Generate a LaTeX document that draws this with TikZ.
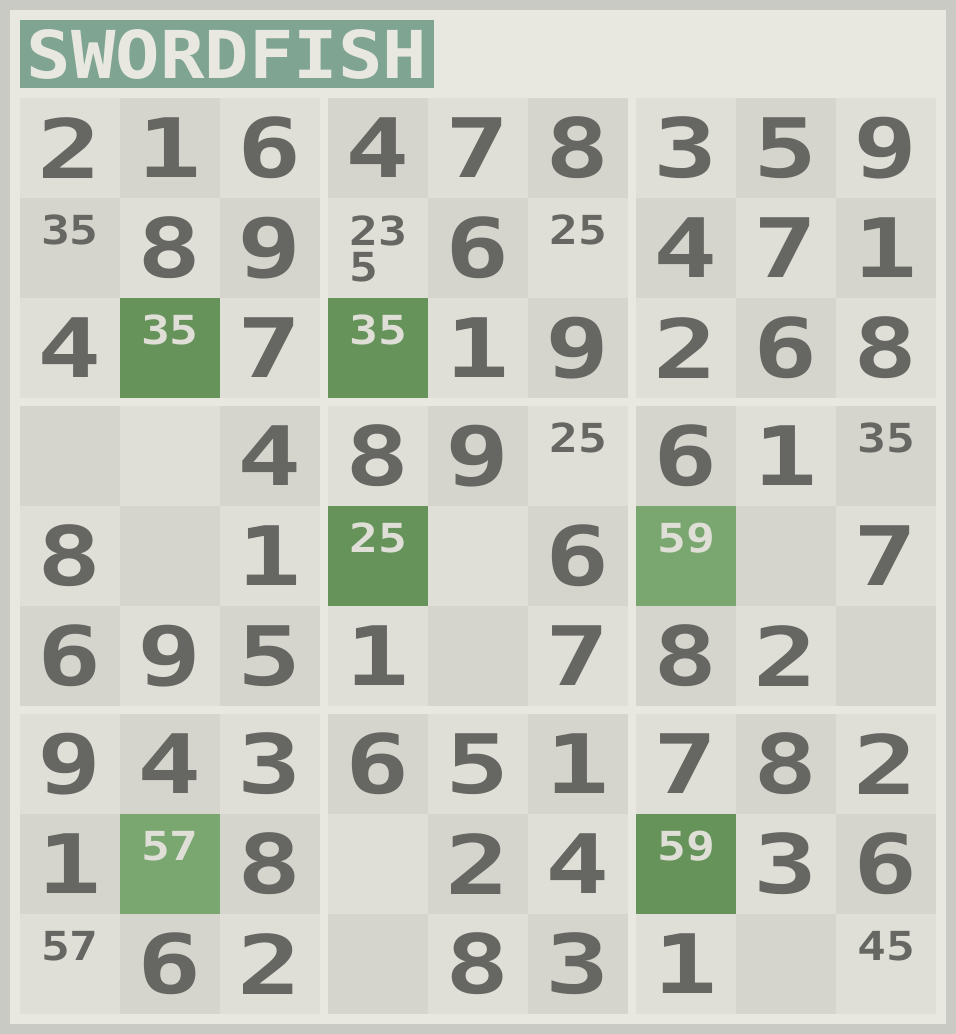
\documentclass[tikz,border=0pt]{standalone}
\usepackage{fontspec}
\newfontfamily\bigfont{DejaVu Sans Mono}[FakeStretch=1.3]
\newfontfamily\smallfont{DejaVu Sans Mono}[FakeStretch=1.2]
\newfontfamily\titlefont{DejaVu Sans Mono}[FakeStretch=1.12]
\definecolor{outerc}{HTML}{C9CAC3}
\definecolor{panelc}{HTML}{E8E8E0}
\definecolor{lightc}{HTML}{DFDFD7}
\definecolor{darkc}{HTML}{D5D5CD}
\definecolor{inkc}{HTML}{666762}
\definecolor{gdark}{HTML}{66935A}
\definecolor{glight}{HTML}{7AA76F}
\definecolor{titlec}{HTML}{7FA592}
\tikzset{
  cellbox/.style={draw=none, minimum width=100pt, minimum height=100pt, inner sep=0pt, outer sep=0pt, anchor=north west},
  bigd/.style={inner sep=0pt, text=inkc, font=\bigfont\bfseries\fontsize{82}{82}\selectfont},
  cand/.style={inner sep=0pt, text=inkc, font=\smallfont\bfseries\fontsize{40}{36}\selectfont},
  candg/.style={cand, text=lightc},
  titlebox/.style={fill=titlec, draw=none, minimum width=414pt, minimum height=68pt, inner sep=0pt, anchor=north west, text=panelc, font=\titlefont\bfseries\fontsize{66}{66}\selectfont}
}
\newcommand\D[3]{\node[bigd] (d-#1-#2) at (cell-#1-#2.center) {#3};}
\newcommand\K[4]{\node[#4] (k-#1-#2) at ([yshift=-32pt]cell-#1-#2.north) {#3};}
\newcommand\G[3]{\fill[#3] (cell-#1-#2.north west) rectangle (cell-#1-#2.south east);}
\begin{document}
\begin{tikzpicture}[x=1pt,y=-1pt]
\fill[outerc] (0,0) rectangle (956,1034);
\fill[panelc] (10,10) rectangle (946,1024);
\node[titlebox] (title) at (20,20) {SWORDFISH};
\foreach \r in {0,...,8}{
  \foreach \c in {0,...,8}{
    \pgfmathtruncatemacro\xx{20+100*\c+8*floor(\c/3)}
    \pgfmathtruncatemacro\yy{98+100*\r+8*floor(\r/3)}
    \pgfmathtruncatemacro\pty{mod(\r+\c,2)}
    \ifnum\pty=0 \def\cc{lightc}\else\def\cc{darkc}\fi
    \node[cellbox, fill=\cc] (cell-\r-\c) at (\xx,\yy) {};
  }
}
% highlighted cells
\G{2}{1}{gdark} \G{2}{3}{gdark} \G{4}{3}{gdark} \G{7}{6}{gdark}
\G{4}{6}{glight} \G{7}{1}{glight}
% row 0
\D{0}{0}{2}\D{0}{1}{1}\D{0}{2}{6}\D{0}{3}{4}\D{0}{4}{7}\D{0}{5}{8}\D{0}{6}{3}\D{0}{7}{5}\D{0}{8}{9}
% row 1
\K{1}{0}{35}{cand}\D{1}{1}{8}\D{1}{2}{9}\D{1}{4}{6}\K{1}{5}{25}{cand}\D{1}{6}{4}\D{1}{7}{7}\D{1}{8}{1}
\node[cand, align=left, anchor=north west] (k-1-3) at ([xshift=21pt, yshift=-17.5pt]cell-1-3.north west) {23\\5};
% row 2
\D{2}{0}{4}\K{2}{1}{35}{candg}\D{2}{2}{7}\K{2}{3}{35}{candg}\D{2}{4}{1}\D{2}{5}{9}\D{2}{6}{2}\D{2}{7}{6}\D{2}{8}{8}
% row 3
\D{3}{2}{4}\D{3}{3}{8}\D{3}{4}{9}\K{3}{5}{25}{cand}\D{3}{6}{6}\D{3}{7}{1}\K{3}{8}{35}{cand}
% row 4
\D{4}{0}{8}\D{4}{2}{1}\K{4}{3}{25}{candg}\D{4}{5}{6}\K{4}{6}{59}{candg}\D{4}{8}{7}
% row 5
\D{5}{0}{6}\D{5}{1}{9}\D{5}{2}{5}\D{5}{3}{1}\D{5}{5}{7}\D{5}{6}{8}\D{5}{7}{2}
% row 6
\D{6}{0}{9}\D{6}{1}{4}\D{6}{2}{3}\D{6}{3}{6}\D{6}{4}{5}\D{6}{5}{1}\D{6}{6}{7}\D{6}{7}{8}\D{6}{8}{2}
% row 7
\D{7}{0}{1}\K{7}{1}{57}{candg}\D{7}{2}{8}\D{7}{4}{2}\D{7}{5}{4}\K{7}{6}{59}{candg}\D{7}{7}{3}\D{7}{8}{6}
% row 8
\K{8}{0}{57}{cand}\D{8}{1}{6}\D{8}{2}{2}\D{8}{4}{8}\D{8}{5}{3}\D{8}{6}{1}\K{8}{8}{45}{cand}
\end{tikzpicture}
\end{document}
